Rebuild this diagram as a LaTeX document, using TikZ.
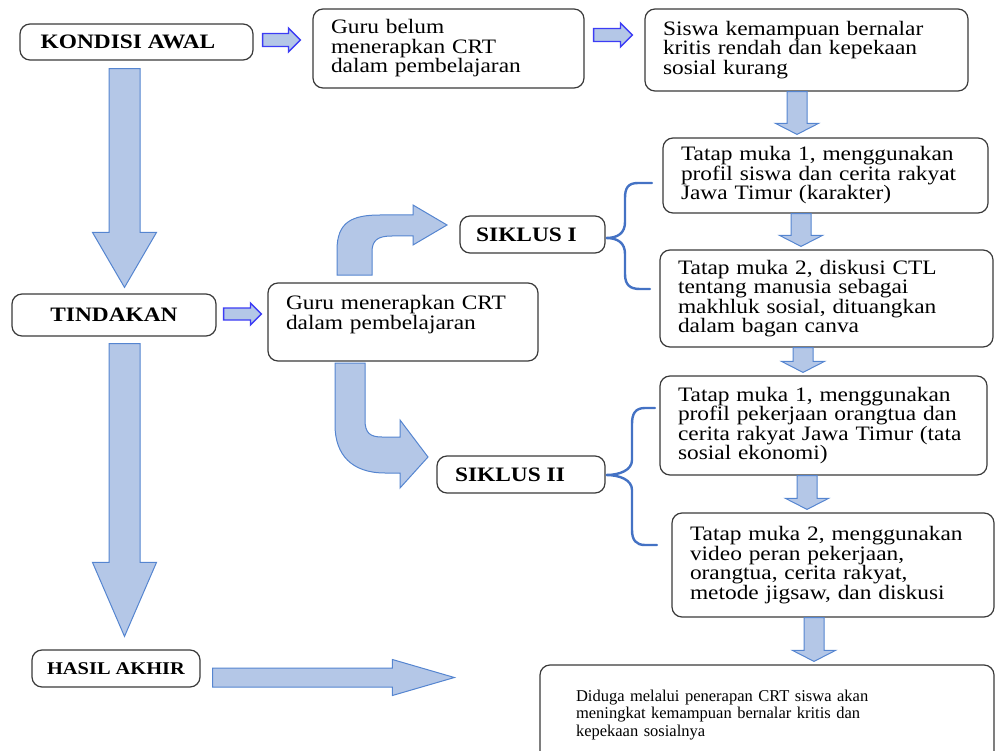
\documentclass[tikz,border=0pt]{standalone}
\usepackage{fontspec}
\setmainfont{Liberation Serif}[FakeStretch=1.14]
\newfontfamily\plainserif{Liberation Serif}
\usepackage{tikz}
\usetikzlibrary{calc,positioning}
\definecolor{arrowfill}{HTML}{B4C7E7}
\definecolor{arrowline}{HTML}{5585D0}
\definecolor{pointline}{HTML}{3C3CF5}
\definecolor{bracecol}{HTML}{4472C4}
\definecolor{boxline}{HTML}{3A3A3A}
\tikzset{
    box/.style={rectangle, rounded corners=10pt, draw=boxline, line width=1.2pt, fill=white, inner ysep=3pt},
    textbox/.style={box, align=left, inner xsep=18pt, font=\fontsize{20.5}{19.5}\selectfont},
    headbox/.style={box, inner xsep=4pt, font=\fontsize{20.5}{22}\selectfont\bfseries},
    bigarrow/.style={fill=arrowfill, draw=arrowline, line width=1pt, line join=miter},
    smallarrow/.style={fill=arrowfill, draw=pointline, line width=1.3pt, line join=miter},
    brace/.style={draw=bracecol, line width=2.4pt, line cap=round}
}
% block arrow: style, from, to, shaft half width, head half width, head length
\newcommand{\blockarrow}[6]{%
  \coordinate (ba-base) at ($(#3)!#6!(#2)$);
  \draw[#1] ($(#2)!#4!90:(#3)$) -- ($(ba-base)!#4!90:(#3)$) -- ($(ba-base)!#5!90:(#3)$)
    -- (#3) -- ($(ba-base)!#5!-90:(#3)$) -- ($(ba-base)!#4!-90:(#3)$) -- ($(#2)!#4!-90:(#3)$) -- cycle;
}

\begin{document}
\begin{tikzpicture}[x=1pt,y=-1pt]
\useasboundingbox (0,0) rectangle (995,751);

\node[headbox, minimum width=233pt, minimum height=36pt] (kondisi) at (136.5,42) {KONDISI AWAL\hspace*{17pt}};
\node[textbox, text width=235pt, minimum height=79pt] (belum) at (448.5,48.5) {Guru belum\\ menerapkan CRT\\ dalam pembelajaran};
\node[textbox, text width=287pt, minimum height=82pt] (rendah) at (806.5,50) {Siswa kemampuan bernalar\\ kritis rendah dan kepekaan\\ sosial kurang};
\node[textbox, text width=289pt, minimum height=75pt] (tm1a) at (825.5,175.5) {Tatap muka 1, menggunakan\\ profil siswa dan cerita rakyat\\ Jawa Timur (karakter)};
\node[textbox, text width=297pt, minimum height=97pt] (tm2a) at (826.5,298.5) {Tatap muka 2, diskusi CTL\\ tentang manusia sebagai\\ makhluk sosial, dituangkan\\ dalam bagan canva};
\node[textbox, text width=291pt, minimum height=99pt] (tm1b) at (823.5,425.5) {Tatap muka 1, menggunakan\\ profil pekerjaan orangtua dan\\ cerita rakyat Jawa Timur (tata\\ sosial ekonomi)};
\node[textbox, text width=286pt, minimum height=104pt] (tm2b) at (833,565) {Tatap muka 2, menggunakan\\ video peran pekerjaan,\\ orangtua, cerita rakyat,\\ metode jigsaw, dan diskusi};
\node[headbox, minimum width=204pt, minimum height=42pt] (tindakan) at (114,315) {TINDAKAN};
\node[textbox, text width=234pt, minimum height=78pt] (terapkan) at (403,322) {Guru menerapkan CRT\\ dalam pembelajaran\\ \mbox{}};
\node[headbox, minimum width=145pt, minimum height=37pt] (siklusI) at (532.5,234.5) {SIKLUS I\hspace*{12pt}};
\node[headbox, minimum width=168pt, minimum height=37pt] (siklusII) at (521,474.5) {SIKLUS II\hspace*{22pt}};
\node[headbox, minimum width=168pt, minimum height=37pt, font=\fontsize{17.9}{20}\selectfont\bfseries] (hasil) at (116,668.5) {HASIL AKHIR};
\node[textbox, inner xsep=36pt, text width=382pt, minimum height=100pt, font=\plainserif\fontsize{16.5}{17.5}\selectfont] (diduga) at (767,715) {Diduga melalui penerapan CRT siswa akan\\ meningkat kemampuan bernalar kritis dan\\ kepekaan sosialnya};

% small pointers
\coordinate (p1a) at ($(kondisi.east)+(9,-2)$);
\coordinate (p1b) at ($(belum.west)+(-12,-8.5)$);
\blockarrow{smallarrow}{p1a}{p1b}{6.5pt}{12pt}{12pt}
\coordinate (p2a) at ($(belum.east)+(9,-13.5)$);
\coordinate (p2b) at ($(rendah.west)+(-12,-15)$);
\blockarrow{smallarrow}{p2a}{p2b}{6.5pt}{12pt}{12pt}
\coordinate (p3a) at ($(tindakan.east)+(7,-1)$);
\coordinate (p3b) at ($(terapkan.west)+(-6,-8)$);
\blockarrow{smallarrow}{p3a}{p3b}{6pt}{11pt}{11pt}

% right column
\foreach \a/\b/\x in {rendah/tm1a/797, tm1a/tm2a/801, tm2a/tm1b/803, tm1b/tm2b/807, tm2b/diduga/814}
{
  \coordinate (da) at (\x,0 |- \a.south);
  \coordinate (db) at ($(\x,0 |- \b.north)+(0,-3)$);
  \blockarrow{bigarrow}{da}{db}{10pt}{21.5pt}{11pt}
}

% left column
\coordinate (ka) at ($(kondisi.south)+(-12,8)$);
\coordinate (tb) at ($(tindakan.north)+(10.5,-6)$);
\blockarrow{bigarrow}{ka}{tb}{15.5pt}{32pt}{55pt}
\coordinate (ta) at ($(tindakan.south)+(10.5,7)$);
\coordinate (hb) at ($(hasil.north)+(8.5,-13)$);
\blockarrow{bigarrow}{ta}{hb}{15.5pt}{32pt}{74pt}
\coordinate (ha) at ($(hasil.east)+(12,9)$);
\coordinate (hd) at ($(diduga.west)+(-85,-37.5)$);
\blockarrow{bigarrow}{ha}{hd}{9.5pt}{18pt}{62pt}

% bent arrows to the cycles
\draw[bigarrow] (337,275) -- (337,250) .. controls (337,222) and (352,215) .. (380,215) -- (413,215)
  -- (413,205) -- (447,225) -- (413,245) -- (413,236) -- (392,236)
  .. controls (378,236) and (372,240) .. (372,252) -- (372,275) -- cycle;
\draw[bigarrow] (335,363) -- (365,363) -- (365,420) .. controls (365,433) and (370,437) .. (382,437)
  -- (400,437) -- (400,420) -- (428,457) -- (400,488) -- (400,473) -- (385,473)
  .. controls (352,473) and (335,455) .. (335,425) -- cycle;

% braces
\draw[brace] (652,183) -- (638,183) .. controls (628,183) and (625,188) .. (625,198) -- (625,222)
  .. controls (625,233) and (618,238) .. (606,238) .. controls (618,238) and (625,243) .. (625,254)
  -- (625,274) .. controls (625,285) and (630,289) .. (640,289) -- (650,289);
\draw[brace] (655,408) -- (645,408) .. controls (635,408) and (632,414) .. (632,424) -- (632,460)
  .. controls (632,470) and (620,475) .. (606,475) .. controls (620,475) and (632,480) .. (632,490)
  -- (632,530) .. controls (632,540) and (636,545) .. (645,545) -- (657,545);
\end{tikzpicture}
\end{document}
